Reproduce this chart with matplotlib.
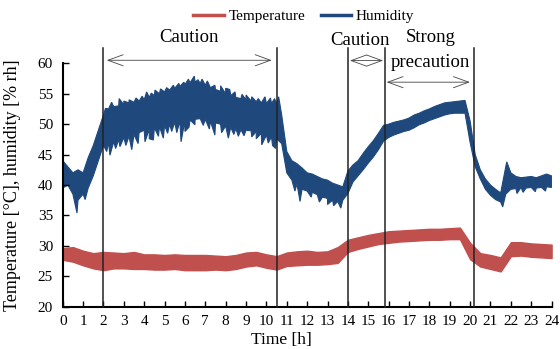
import numpy as np
import matplotlib.pyplot as plt

# readings taken off the chart: core band of each noisy logger trace
hum_time = np.arange(0, 24.01, 0.25)
hum_high = [44.0, 43.0, 42.0, 42.5, 42.0, 44.5, 46.5, 49.0,
            51.5, 52.5, 52.9, 53.0, 53.2, 53.5, 53.6, 53.8,
            54.0, 54.4, 54.7, 55.0, 55.3, 55.6, 55.9, 56.2,
            56.5, 56.8, 56.9, 56.7, 56.4, 56.0, 55.7, 55.4,
            55.0, 54.7, 54.4, 54.2, 54.0, 53.8, 53.7, 53.5,
            53.4, 53.4, 53.3, 51.5, 45.5, 44.0, 43.5, 42.8,
            42.0, 41.8, 41.4, 41.0, 40.8, 40.3, 40.0, 39.7,
            42.3, 43.3, 44.0, 45.2, 46.3, 47.3, 48.5, 49.8,
            50.0, 50.3, 50.5, 50.7, 51.0, 51.5, 51.8, 52.2,
            52.5, 52.9, 53.2, 53.5, 53.6, 53.7, 53.8, 53.9,
            50.5, 45.0, 42.5, 41.0, 40.0, 39.3, 38.7, 43.0,
            42.0, 41.4, 41.2, 41.3, 41.4, 41.2, 41.5, 41.8,
            41.5]
hum_low = [39.5, 40.0, 38.5, 37.5, 38.5, 39.5, 41.5, 44.0,
           46.5, 47.0, 47.1, 47.5, 47.8, 48.0, 48.3, 48.6,
           49.0, 49.2, 49.4, 49.6, 49.8, 50.0, 50.3, 50.5,
           50.6, 50.7, 50.8, 50.9, 50.8, 50.5, 50.2, 50.0,
           49.7, 49.5, 49.3, 49.1, 49.0, 48.9, 48.8, 48.5,
           48.2, 47.9, 47.6, 46.8, 42.0, 40.8, 40.2, 39.3,
           39.0, 38.8, 38.4, 38.0, 37.8, 37.5, 37.3, 37.5,
           38.6, 40.5, 41.5, 42.5, 43.6, 44.6, 45.8, 47.2,
           47.8, 48.2, 48.5, 48.8, 49.0, 49.4, 49.9, 50.2,
           50.6, 50.9, 51.2, 51.5, 51.7, 51.8, 51.8, 51.8,
           47.0, 43.0, 41.0, 39.3, 38.3, 37.6, 37.2, 38.5,
           39.3, 39.4, 39.6, 39.5, 39.6, 39.5, 39.6, 39.7,
           39.6]

# single readings that stick out of the band
spike_down_t = [0.7, 1.1, 2.16, 2.32, 2.6, 2.81, 3.1, 3.39, 3.7, 4.04, 4.25,
                4.45, 4.7, 4.94, 5.15, 5.35, 5.6, 5.81, 6.0, 6.2, 6.49, 6.9,
                7.2, 7.47, 7.8, 8.13, 8.4, 8.62, 8.9, 9.28, 9.5, 9.77, 10.09,
                10.3, 10.45, 11.4, 11.65, 12.2, 12.6, 13.0, 13.3, 13.65, 21.6,
                22.3, 22.6, 23.2, 23.7]
spike_down_v = [35.4, 37.6, 45.5, 44.9, 46.0, 46.3, 46.5, 45.8, 46.8, 47.1, 47.6,
                47.4, 48.0, 47.7, 48.5, 48.8, 48.6, 47.1, 48.8, 49.5, 49.9, 49.8,
                49.2, 48.2, 48.6, 47.7, 48.3, 48.0, 48.1, 47.9, 47.6, 46.6, 46.9,
                46.5, 46.0, 39.0, 37.3, 38.0, 37.2, 36.8, 36.6, 36.2, 36.4,
                38.6, 38.8, 38.9, 39.0]
spike_up_t = [2.1, 2.4, 2.77, 3.0, 3.26, 3.6, 3.9, 4.12, 4.35, 4.53, 4.8, 5.1,
              5.43, 5.7, 5.95, 6.17, 6.46, 6.64, 6.84, 7.1, 7.47, 7.75, 8.0,
              8.2, 8.46, 8.8, 9.0, 9.28, 9.6, 9.93, 10.2, 10.4, 10.6, 21.8]
spike_up_v = [52.6, 53.6, 54.2, 53.8, 54.0, 54.3, 54.6, 55.3, 55.1, 55.6, 55.8,
              56.0, 56.4, 56.7, 56.9, 57.4, 57.9, 57.3, 57.4, 57.1, 56.4, 56.3,
              55.9, 55.7, 55.3, 54.9, 54.8, 54.5, 54.2, 54.5, 54.3, 54.2, 54.5,
              43.8]

temp_time = np.arange(0, 24.01, 0.5)
temp_high = [29.6, 29.8, 29.2, 28.8, 29.0, 28.9, 28.8, 29.0,
             28.6, 28.6, 28.5, 28.6, 28.5, 28.5, 28.5, 28.4,
             28.3, 28.5, 28.9, 29.0, 28.6, 28.3, 28.9, 29.1,
             29.2, 29.0, 29.1, 29.8, 31.0, 31.4, 31.8, 32.1,
             32.4, 32.5, 32.6, 32.7, 32.8, 32.8, 32.9, 33.0,
             30.5, 28.8, 28.5, 28.1, 30.6, 30.6, 30.4, 30.3,
             30.2]
temp_low = [27.7, 27.4, 26.8, 26.3, 26.0, 26.3, 26.3, 26.2,
            26.2, 26.1, 26.1, 26.2, 26.0, 26.0, 26.0, 26.1,
            26.0, 26.2, 26.6, 26.8, 26.4, 26.1, 26.7, 26.8,
            26.9, 26.9, 27.0, 27.2, 29.0, 29.5, 29.9, 30.3,
            30.5, 30.7, 30.8, 30.9, 31.0, 31.0, 31.1, 31.1,
            27.8, 26.6, 26.2, 25.8, 28.3, 28.4, 28.2, 28.1,
            28.0]

phase_bounds = [2.0, 10.5, 14.0, 15.8, 20.2]

RED = '#C0504D'
BLUE = '#1F497D'

plt.rcParams['font.family'] = ['Liberation Serif', 'DejaVu Serif']


def edge(t, v, extra_t, extra_v):
    # merge the band edge with the readings that poke out of it
    tt = np.concatenate([t, extra_t])
    vv = np.concatenate([v, extra_v])
    order = np.argsort(tt, kind='stable')
    return tt[order], vv[order]


fig = plt.figure(figsize=(5.6, 3.49), dpi=100)
ax = fig.add_axes([0.112, 0.1212, 0.873, 0.6974])

ax.fill_between(temp_time, temp_low, temp_high, color=RED, lw=1.0, edgecolor=RED)

up_t, up_v = edge(hum_time, hum_high, spike_up_t, spike_up_v)
lo_t, lo_v = edge(hum_time, hum_low, spike_down_t, spike_down_v)
ax.fill(np.concatenate([up_t, lo_t[::-1]]), np.concatenate([up_v, lo_v[::-1]]),
        color=BLUE, lw=0.8, edgecolor=BLUE)

ax.plot([], [], color=RED, lw=2.5, label='Temperature')
ax.plot([], [], color=BLUE, lw=2.5, label='Humidity')

for b in phase_bounds:
    ax.plot([b, b], [20, 62.5], color='#222222', lw=1.1, clip_on=False, zorder=5)

arrow = dict(arrowstyle='<->,head_length=1.1,head_width=0.4', lw=0.6,
             color='#444444', shrinkA=0, shrinkB=0)
ax.annotate('', xy=(2.16, 60.5), xytext=(10.26, 60.5), arrowprops=arrow,
            annotation_clip=False)
ax.annotate('', xy=(14.1, 60.45), xytext=(15.73, 60.45), arrowprops=arrow,
            annotation_clip=False)
ax.annotate('', xy=(15.9, 56.9), xytext=(19.99, 56.9), arrowprops=arrow,
            annotation_clip=False)

ax.text(6.2, 64.3, 'Caution', ha='center', va='center', fontsize=13.5)
ax.text(14.6, 63.8, 'Caution', ha='center', va='center', fontsize=13.5)
ax.text(18.04, 64.2, 'Strong', ha='center', va='center', fontsize=13.5)
ax.text(18.04, 60.2, 'precaution', ha='center', va='center', fontsize=13.5)

ax.set_xlim(0, 24)
ax.set_ylim(20, 60)
ax.set_xticks(range(0, 25))
ax.set_yticks(range(20, 61, 5))
ax.tick_params(direction='in', length=4, width=1, labelsize=11, pad=7)
ax.tick_params(axis='x', pad=6)
for s in ['top', 'right']:
    ax.spines[s].set_visible(False)
for s in ['left', 'bottom']:
    ax.spines[s].set_linewidth(1.5)

ax.set_xlabel('Time [h]', fontsize=12.5)
ax.xaxis.set_label_coords(0.447, -0.102)
ax.set_ylabel('Temperature [°C], humidity [% rh]', fontsize=13)
ax.yaxis.set_label_coords(-0.085, 0.5)

ax.legend(loc='center', bbox_to_anchor=(0.493, (306.7 - 16) / 243.4),
          ncol=2, frameon=False, fontsize=11, handlelength=2.0,
          handletextpad=0.3, columnspacing=1.0, borderaxespad=0)

fig.savefig('out.png', dpi=100)
